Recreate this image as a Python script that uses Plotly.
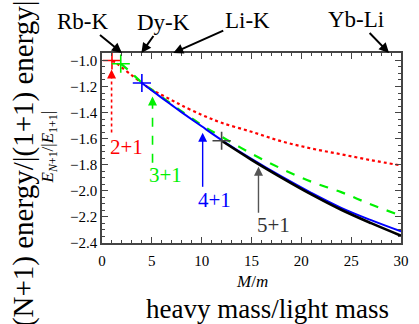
import plotly.graph_objects as go

# ---- data ----
x_21 = [1, 1.5, 2, 3, 4, 5, 6, 7, 8, 10, 12, 15, 18, 21, 24, 27, 30]
y_21 = [-1.0, -1.025, -1.055, -1.115, -1.172, -1.225, -1.265, -1.305, -1.345, -1.417,
        -1.478, -1.547, -1.62, -1.675, -1.72, -1.765, -1.805]
x_31 = [1.88, 2.5, 3, 4, 5, 6, 7, 8, 10, 12, 15, 18, 21, 24, 27, 30]
y_31 = [-1.025, -1.065, -1.10, -1.17, -1.225, -1.28, -1.335, -1.39, -1.495, -1.585,
        -1.715, -1.83, -1.93, -2.01, -2.105, -2.19]
x_41 = [4, 5, 6, 7, 8, 10, 12, 15, 18, 21, 24, 27, 30]
y_41 = [-1.173, -1.23, -1.287, -1.343, -1.398, -1.505, -1.61, -1.755, -1.89, -2.015,
        -2.13, -2.225, -2.311]
x_51 = [12, 15, 18, 21, 24, 27, 30]
y_51 = [-1.616, -1.762, -1.898, -2.027, -2.145, -2.248, -2.344]

series_names = ["2+1", "3+1", "4+1", "5+1"]
series_colors = ["#ff0000", "#00f000", "#0000ff", "#000000"]
series_dash = ["dot", "dash", "solid", "solid"]
marker_colors = ["#ff0000", "#00f000", "#0000ff", "#444444"]

# label arrows (x position, tail value, tip value) and label positions
arrow_x = [0.96, 5.07, 10.1, 15.7]
arrow_tail = [-1.552, -1.785, -1.969, -2.168]
arrow_tip = [-1.07, -1.276, -1.555, -1.815]
arrow_colors = ["#ff0000", "#00f000", "#0000ff", "#555555"]
label_x = [2.5, 6.4, 11.3, 17.2]
label_y = [-1.66, -1.877, -2.07, -2.26]
label_colors = ["#ff0000", "#00f000", "#0000ff", "#333333"]

# mixtures marked on top axis
mix_names = ["Rb-K", "Dy-K", "Li-K", "Yb-Li"]
mix_ratio = [2.0, 3.95, 7.15, 28.8]
mix_ax = [-39, 22, 74, -33]
mix_ay = [-32, -31, -33, -34]

xs = [x_21, x_31, x_41, x_51]
ys = [y_21, y_31, y_41, y_51]

FONT = "Liberation Serif"
L, R, T, B = 102, 10, 53, 81
W, H = 419, 324
PW, PH = W - L - R, H - T - B


def px2paper(px, py):
    return (px - L) / PW, (H - B - py) / PH


fig = go.Figure()
widths = [2.2, 2.2, 2.0, 2.6]
for i in range(4):
    fig.add_trace(go.Scatter(x=xs[i], y=ys[i], mode="lines", line_shape="spline",
                             line=dict(color=series_colors[i], width=widths[i], dash=series_dash[i]),
                             showlegend=False, hoverinfo="skip"))
for i in range(4):
    fig.add_trace(go.Scatter(x=[xs[i][0]], y=[ys[i][0]], mode="markers",
                             marker=dict(symbol="cross-thin", size=13,
                                         line=dict(color=marker_colors[i], width=1.6)),
                             showlegend=False, hoverinfo="skip"))
# arrow shafts
for i in range(4):
    fig.add_trace(go.Scatter(x=[arrow_x[i], arrow_x[i]], y=[arrow_tail[i], arrow_tip[i] - 0.03],
                             mode="lines",
                             line=dict(color=arrow_colors[i], width=1.6 if i < 2 else 1.4,
                                       dash=series_dash[i]),
                             showlegend=False, hoverinfo="skip"))

ann = []
for i in range(4):
    ann.append(dict(x=arrow_x[i], y=arrow_tip[i], xref="x", yref="y", text="",
                    showarrow=True, ax=0, ay=6, arrowhead=2, arrowsize=1.2, arrowwidth=1.5,
                    arrowcolor=arrow_colors[i]))
    ann.append(dict(x=label_x[i], y=label_y[i], xref="x", yref="y", text=series_names[i],
                    showarrow=False, font=dict(family=FONT, size=21, color=label_colors[i])))
for i in range(4):
    ann.append(dict(x=mix_ratio[i], y=1, xref="x", yref="paper", text=mix_names[i],
                    showarrow=True, ax=mix_ax[i], ay=mix_ay[i], arrowhead=2, arrowsize=1,
                    arrowwidth=2, arrowcolor="black", standoff=0,
                    font=dict(family=FONT, size=23, color="black")))

px, py = px2paper(21, 164)
ann.append(dict(x=px, y=py, xref="paper", yref="paper", text="(N+1) energy/|(1+1) energy|",
                textangle=-90, showarrow=False, xanchor="center", yanchor="middle",
                font=dict(family=FONT, size=29, color="black")))
px, py = px2paper(272, 309)
ann.append(dict(x=px, y=py, xref="paper", yref="paper", text="heavy mass/light mass",
                showarrow=False, xanchor="center", yanchor="middle",
                font=dict(family=FONT, size=27, color="black")))
px, py = px2paper(48, 147)
ann.append(dict(x=px, y=py, xref="paper", yref="paper",
                text="<i>E</i><sub><i>N</i>+1</sub>/|<i>E</i><sub>1+1</sub>|",
                textangle=-90, showarrow=False, xanchor="center", yanchor="middle",
                font=dict(family=FONT, size=17, color="black")))
px, py = px2paper(256, 281)
ann.append(dict(x=px, y=py, xref="paper", yref="paper", text="<i>M</i>/<i>m</i>",
                showarrow=False, xanchor="center", yanchor="middle",
                font=dict(family=FONT, size=17, color="black")))

axis_common = dict(showline=True, linecolor="#444444", linewidth=1.5, mirror="allticks",
                   ticks="inside", ticklen=6, tickwidth=1, tickcolor="#444444",
                   showgrid=False, zeroline=False,
                   tickfont=dict(family=FONT, size=15, color="black"))
fig.update_xaxes(range=[0, 30], dtick=5, tick0=0, ticklabelstandoff=3,
                 minor=dict(dtick=1, ticks="inside", ticklen=3, tickcolor="#444444"),
                 **axis_common)
fig.update_yaxes(range=[-2.4, -0.943], dtick=0.2, tick0=-2.4, tickformat=".1f",
                 minor=dict(dtick=0.05, ticks="inside", ticklen=3, tickcolor="#444444"),
                 **axis_common)
fig.update_layout(width=W, height=H, margin=dict(l=L, r=R, t=T, b=B),
                  paper_bgcolor="white", plot_bgcolor="white", annotations=ann,
                  font=dict(family=FONT))
fig.write_html("out.html", config={"displayModeBar": False},
               post_script="document.body.style.margin='0px';")
